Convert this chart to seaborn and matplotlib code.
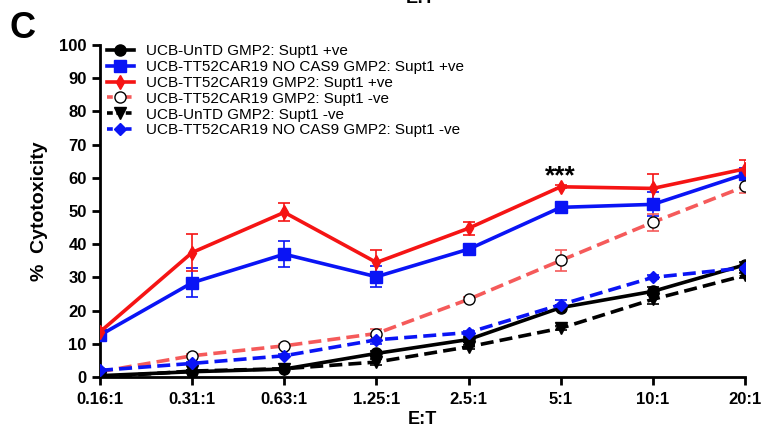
import matplotlib
matplotlib.use("Agg")
import matplotlib.pyplot as plt
import seaborn as sns
import numpy as np
import pandas as pd

# ---- Data ----
ratios = ["0.16:1", "0.31:1", "0.63:1", "1.25:1", "2.5:1", "5:1", "10:1", "20:1"]

untd_pos = [0.4, 1.6, 2.4, 7.1, 11.3, 20.9, 25.8, 33.8]
untd_pos_err = [0.3, 0.4, 0.4, 0.8, 0.8, 0.8, 1.2, 0.8]

nocas9_pos = [12.6, 28.4, 37.0, 30.2, 38.5, 51.1, 52.0, 61.1]
nocas9_pos_err = [0.8, 4.4, 4.0, 3.2, 0.6, 0.8, 3.6, 1.8]

car19_pos = [13.6, 37.5, 49.6, 34.5, 44.8, 57.3, 56.8, 62.7]
car19_pos_err = [1.2, 5.6, 2.7, 3.9, 1.9, 0.5, 4.2, 2.6]

car19_neg = [1.6, 6.4, 9.4, 13.1, 23.4, 35.1, 46.6, 57.4]
car19_neg_err = [0.3, 0.5, 0.5, 1.5, 0.6, 3.3, 2.6, 2.0]

untd_neg = [0.0, 1.8, 2.5, 4.5, 9.1, 14.7, 23.4, 30.6]
untd_neg_err = [0.2, 0.3, 0.3, 0.8, 0.6, 0.6, 1.5, 0.8]

nocas9_neg = [2.0, 4.1, 6.4, 11.2, 13.4, 21.8, 30.0, 32.9]
nocas9_neg_err = [0.3, 0.4, 0.5, 1.3, 0.6, 1.3, 0.6, 0.6]

series = [
    ("UCB-UnTD GMP2: Supt1 +ve", untd_pos, untd_pos_err, "black", "-", "o", 8, "black"),
    ("UCB-TT52CAR19 NO CAS9 GMP2: Supt1 +ve", nocas9_pos, nocas9_pos_err, "#0a14f5", "-", "s", 9, "#0a14f5"),
    ("UCB-TT52CAR19 GMP2: Supt1 +ve", car19_pos, car19_pos_err, "#f51414", "-", "d", 7, "#f51414"),
    ("UCB-TT52CAR19 GMP2: Supt1 -ve", car19_neg, car19_neg_err, "#f55a5a", "--", "o", 8, "white"),
    ("UCB-UnTD GMP2: Supt1 -ve", untd_neg, untd_neg_err, "black", "--", "v", 8, "black"),
    ("UCB-TT52CAR19 NO CAS9 GMP2: Supt1 -ve", nocas9_neg, nocas9_neg_err, "#0a14f5", "--", "D", 6, "#0a14f5"),
]

plt.rcParams["font.family"] = ["Liberation Sans", "DejaVu Sans"]

fig = plt.figure(figsize=(7.61, 4.34), dpi=100)
ax = fig.add_axes([0.1314, 0.1313, 0.979 - 0.1314, 0.8963 - 0.1313])

xpos = np.arange(len(ratios))
for label, vals, errs, color, ls, marker, ms, mfc in series:
    df = pd.DataFrame({"x": xpos, "y": vals})
    ax.errorbar(xpos, vals, yerr=errs, fmt="none", ecolor=color, elinewidth=1.2,
                capsize=4, capthick=1.2, zorder=2)
    sns.lineplot(data=df, x="x", y="y", ax=ax, color=color, linewidth=2.6,
                 linestyle=ls, marker=marker, markersize=ms, markerfacecolor=mfc,
                 markeredgecolor="black" if mfc == "white" else color,
                 markeredgewidth=1.0, label=label, zorder=3)

for ln in ax.get_lines():
    if ln.get_linestyle() == "--":
        ln.set_dashes([3.6, 1.7])

ax.set_xlim(0, len(ratios) - 1)
ax.set_ylim(0, 100)
ax.set_xticks(xpos)
ax.set_xticklabels(ratios)
ax.set_yticks(np.arange(0, 101, 10))
for lab in ax.get_xticklabels() + ax.get_yticklabels():
    lab.set_fontweight("bold")
    lab.set_fontsize(12)
ax.tick_params(axis="both", direction="out", length=6, width=2, colors="black")
ax.tick_params(axis="x", pad=5)
for side in ["top", "right"]:
    ax.spines[side].set_visible(False)
for side in ["left", "bottom"]:
    ax.spines[side].set_linewidth(2)

ax.set_xlabel("E:T", fontsize=13, fontweight="bold", labelpad=3)
ax.set_ylabel("%  Cytotoxicity", fontsize=14, fontweight="bold", labelpad=8)

leg = ax.legend(loc="upper left", bbox_to_anchor=(-0.004, 1.03), frameon=False,
                fontsize=11, handlelength=1.8, handletextpad=0.8,
                labelspacing=0.12, borderaxespad=0.2)
for h in leg.get_lines():
    if h.get_linestyle() == "--":
        h.set_dashes([1.6, 1.0])

ax.text(5, 58.4, "***", ha="center", va="baseline", fontsize=19, fontweight="bold")

fig.text(0.012, 0.975, "C", fontsize=26, fontweight="bold", va="top")
fig.text(0.553, 0.993, "E:T", fontsize=13, fontweight="bold", ha="center", va="baseline")

fig.savefig("out.png", dpi=100)
plt.close(fig)
